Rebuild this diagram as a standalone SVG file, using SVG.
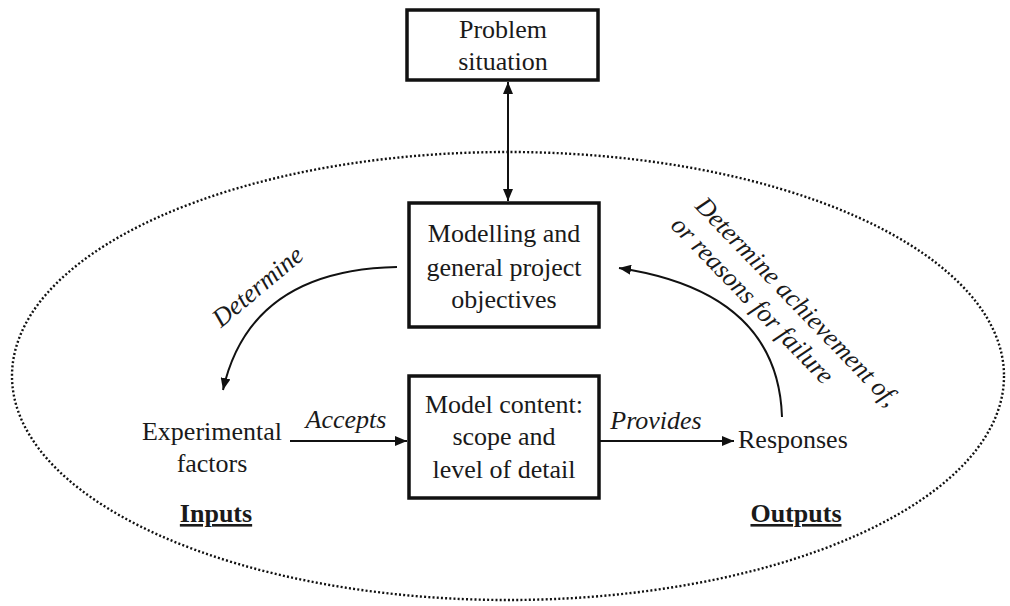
<svg xmlns="http://www.w3.org/2000/svg" width="1010" height="606" viewBox="0 0 1010 606">
<defs>
<style>
.t{font-family:"Liberation Serif","Times New Roman",serif;font-size:26px;fill:#1a1a1a}
.i{font-style:italic}
.b{font-weight:bold;text-decoration:underline}
.box{fill:#fff;stroke:#111;stroke-width:3.5}
.c{fill:none;stroke:#111;stroke-width:2}
</style>
<marker id="ah" viewBox="0 0 12 10" refX="12" refY="5" markerWidth="12" markerHeight="10" markerUnits="userSpaceOnUse" orient="auto-start-reverse">
<path d="M0,0 L12,5 L0,10 z" fill="#111"/>
</marker>
</defs>
<rect width="1010" height="606" fill="#fff"/>
<ellipse cx="508" cy="376" rx="496" ry="224" fill="none" stroke="#111" stroke-width="2.4" stroke-dasharray="2 2.2"/>
<g id="connectors">
<line class="c" x1="508" y1="82" x2="508" y2="201" marker-start="url(#ah)" marker-end="url(#ah)"/>
<path class="c" d="M397,267 Q250,270 223,390" marker-end="url(#ah)"/>
<path class="c" d="M782,417 Q778,292 619,268" marker-end="url(#ah)"/>
<line class="c" x1="290" y1="441" x2="407" y2="441" marker-end="url(#ah)"/>
<line class="c" x1="600" y1="441" x2="734" y2="441" marker-end="url(#ah)"/>
<text class="t i" transform="translate(263,293) rotate(-40)" text-anchor="middle">Determine</text>
<text class="t i" transform="translate(694,207) rotate(46)"><tspan x="0" y="0">Determine achievement of,</tspan><tspan x="-3" y="31">or reasons for failure</tspan></text>
<text class="t i" x="346" y="428" text-anchor="middle">Accepts</text>
<text class="t i" x="656" y="429" text-anchor="middle">Provides</text>
</g>
<g id="problem">
<rect class="box" x="407" y="10" width="191" height="70"/>
<text class="t" x="503" y="38" text-anchor="middle">Problem</text>
<text class="t" x="503" y="70" text-anchor="middle">situation</text>
</g>
<g id="objectives">
<rect class="box" x="409" y="203" width="190" height="124"/>
<text class="t" x="504" y="242" text-anchor="middle">Modelling and</text>
<text class="t" x="504" y="276" text-anchor="middle">general project</text>
<text class="t" x="504" y="308" text-anchor="middle">objectives</text>
</g>
<g id="content">
<rect class="box" x="409" y="376" width="190" height="122"/>
<text class="t" x="504" y="413" text-anchor="middle">Model content:</text>
<text class="t" x="504" y="445" text-anchor="middle">scope and</text>
<text class="t" x="504" y="478" text-anchor="middle">level of detail</text>
</g>
<g id="inputs">
<text class="t" x="212" y="440" text-anchor="middle">Experimental</text>
<text class="t" x="212" y="472" text-anchor="middle">factors</text>
<text class="t b" x="216" y="522" text-anchor="middle">Inputs</text>
</g>
<g id="outputs">
<text class="t" x="738" y="448">Responses</text>
<text class="t b" x="796" y="522" text-anchor="middle">Outputs</text>
</g>
</svg>
